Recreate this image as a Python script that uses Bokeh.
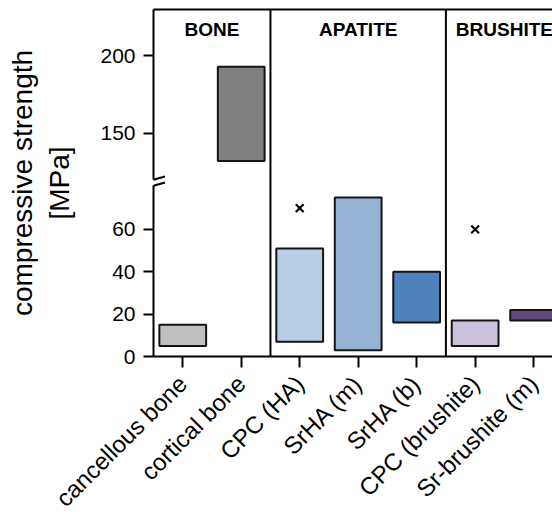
import math
from bokeh.plotting import figure
from bokeh.models import (ColumnDataSource, Range1d, FixedTicker, LinearAxis, Span,
                          PolyAnnotation, Title)
from bokeh.core.properties import value
from bokeh.embed import file_html
from bokeh.resources import INLINE

# ---------------- data ----------------
categories = ["cancellous bone", "cortical bone", "CPC (HA)", "SrHA (m)",
              "SrHA (b)", "CPC (brushite)", "Sr-brushite (m)"]
strength_low = [5, 132, 7, 3, 16, 5, 17]
strength_high = [15, 193, 51, 75, 40, 17, 22]
bar_colors = ["#c0c0c0", "#808080", "#b9cde5", "#95b3d7", "#4f81bd", "#ccc1da", "#604a7b"]

marker_categories = ["CPC (HA)", "CPC (brushite)"]
marker_values = [70, 60]

groups = ["BONE", "APATITE", "BRUSHITE"]
group_members = [["cancellous bone", "cortical bone"],
                 ["CPC (HA)", "SrHA (m)", "SrHA (b)"],
                 ["CPC (brushite)", "Sr-brushite (m)"]]

y_ticks = [0, 20, 40, 60, 150, 200]
y_label_line1 = "compressive strength"
y_label_line2 = "[MPa]"

# ---------------- broken y axis ----------------
LOWER_TOP = 82       # lower panel shows 0 .. 82
UPPER_BOTTOM = 118   # upper panel starts at 118
UPPER_TOP = 230      # and ends at 230
UPPER_SCALE = 0.73   # upper panel is compressed relative to lower panel


def brk(v):
    return v if v <= LOWER_TOP else LOWER_TOP + (v - UPPER_BOTTOM) * UPPER_SCALE


FONT = "Liberation Sans"
Y_TOP = brk(UPPER_TOP)
X_START, X_END = -0.5, 6.34
FRAME_W, FRAME_H = 400, 347
PX_X = FRAME_W / (X_END - X_START)
PX_Y = FRAME_H / Y_TOP

idx = {c: i for i, c in enumerate(categories)}

src = ColumnDataSource(dict(
    x=list(range(len(categories))),
    bottom=[brk(v) for v in strength_low],
    top=[brk(v) for v in strength_high],
    color=bar_colors,
))

p = figure(frame_width=FRAME_W, frame_height=FRAME_H,
           x_range=Range1d(X_START, X_END), y_range=Range1d(0, Y_TOP),
           output_backend="svg", toolbar_location=None,
           min_border_left=152, min_border_right=0, min_border_top=9,
           min_border_bottom=156)
p.outline_line_color = None
p.grid.visible = False
p.background_fill_color = "white"
p.border_fill_color = "white"

# bars
p.vbar(x="x", bottom="bottom", top="top", width=0.8, source=src,
       fill_color="color", line_color="#141414", line_width=2)

# markers
p.scatter(x=[idx[c] for c in marker_categories], y=[brk(v) for v in marker_values],
          marker="x", size=11, line_width=2.2, color="black")

# group separators and labels
ends = [max(idx[c] for c in g) for g in group_members]
for e in ends[:-1]:
    p.add_layout(Span(location=e + 0.5, dimension="height", line_color="black", line_width=2))
centers = [sum(idx[c] for c in g) / len(g) for g in group_members]
p.text(x=centers, y=[Y_TOP] * len(groups), text=groups,
       text_font=value(FONT), text_font_style="bold", text_font_size="19px",
       text_align="center", text_baseline="middle", y_offset=20, text_color="black")

# x axis
xa = p.xaxis[0]
xa.ticker = FixedTicker(ticks=list(range(len(categories))))
xa.major_label_overrides = {i: c for i, c in enumerate(categories)}
xa.major_label_orientation = math.pi / 4
xa.major_label_text_font = FONT
xa.major_label_text_font_size = "24px"
xa.major_label_text_color = "black"
xa.major_label_standoff = 12
xa.major_tick_out = 11
xa.major_tick_in = 0
xa.minor_tick_out = 0
xa.minor_tick_in = 0
xa.axis_line_width = 2
xa.major_tick_line_width = 2
xa.axis_line_color = "black"
xa.major_tick_line_color = "black"

# y axis with a gap in its line at the break
gap = 6 / PX_Y
gap_start_px = int(round((LOWER_TOP - gap / 2) * PX_Y))
ya = p.yaxis[0]
ya.ticker = FixedTicker(ticks=[brk(t) for t in y_ticks])
ya.major_label_overrides = {brk(t): str(t) for t in y_ticks}
ya.major_label_text_font = FONT
ya.major_label_text_font_size = "21px"
ya.major_label_text_color = "black"
ya.major_label_standoff = 8
ya.major_tick_out = 10
ya.major_tick_in = 0
ya.minor_tick_out = 0
ya.minor_tick_in = 0
ya.axis_line_width = 2
ya.axis_line_dash = "%d 6 1000 0" % gap_start_px
ya.major_tick_line_width = 2
ya.axis_line_color = "black"
ya.major_tick_line_color = "black"
ya.axis_label = y_label_line2
ya.axis_label_standoff = 22
ya.axis_label_text_font = FONT
ya.axis_label_text_font_style = "normal"
ya.axis_label_text_font_size = "28px"
ya.axis_label_text_color = "black"

p.add_layout(Title(text=y_label_line1, align="center", text_font=FONT,
                   text_font_style="normal", text_font_size="28px",
                   text_color="black", standoff=8), "left")

top_axis = LinearAxis(ticker=FixedTicker(ticks=[]), major_tick_out=0, major_tick_in=0,
                      minor_tick_out=0, minor_tick_in=0, major_label_standoff=0,
                      axis_line_width=2, axis_line_color="black")
p.add_layout(top_axis, "above")

# axis break marks
rise = 6.5 / PX_Y
half = 11.5 / PX_X


def slash_y(xx, base):
    return base + (xx - X_START) / half * rise / 2


for base in (LOWER_TOP + gap / 2, LOWER_TOP - gap / 2):
    p.add_layout(PolyAnnotation(
        xs=[X_START - half, X_START + half],
        ys=[slash_y(X_START - half, base), slash_y(X_START + half, base)],
        fill_color=None, line_color="black", line_alpha=1, line_width=2))

open("out.html", "w").write(file_html(p, INLINE))
